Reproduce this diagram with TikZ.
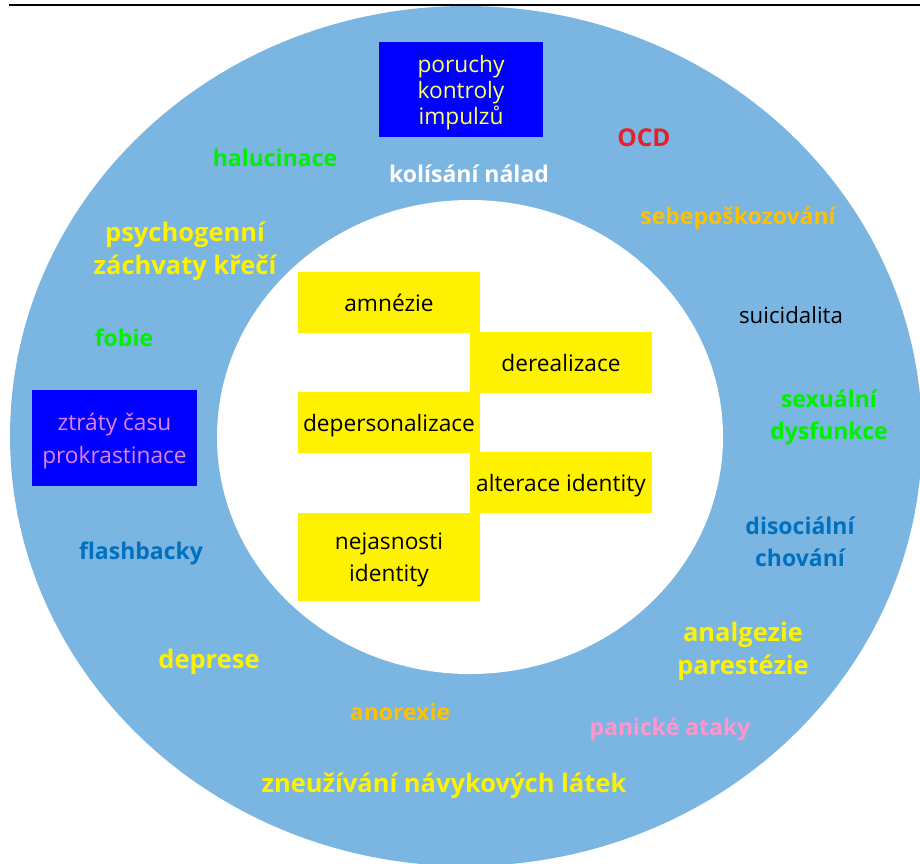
\documentclass[tikz,border=0pt]{standalone}
\usepackage{fontspec}
\setmainfont{Open Sans}
\usepackage{tikz}
\usepackage{xcolor}

\definecolor{ringblue}{RGB}{123,181,225}
\definecolor{hotgreen}{RGB}{0,240,0}
\definecolor{ocdred}{RGB}{232,30,40}
\definecolor{gold}{RGB}{255,192,0}
\definecolor{deepblue}{RGB}{0,112,192}
\definecolor{softpink}{RGB}{255,150,205}
\definecolor{paleyellow}{RGB}{255,255,110}
\definecolor{lilac}{RGB}{225,130,235}

\tikzset{
  ringlabel/.style={align=center, inner sep=0pt, text depth=0pt, font=\fontsize{23}{32}\selectfont\bfseries},
  biglabel/.style={ringlabel, font=\fontsize{25.5}{33}\selectfont\bfseries},
  symptom/.style={fill=yellow, align=center, inner sep=0pt, text depth=0pt, minimum width=182, minimum height=61, font=\fontsize{22.7}{32}\selectfont},
  impbox/.style={fill=blue, align=center, inner sep=0pt, text depth=0pt, font=\fontsize{22.7}{26}\selectfont}
}

\begin{document}
\begin{tikzpicture}[x=1pt,y=1pt,yscale=-1,xscale=1]
\useasboundingbox (0,0) rectangle (920,863);

%Straight Lines [top rule]
\draw [line width=2.6pt] (9,5) -- (920,5) ;
%Shape: Ellipse [outer ring]
\fill [ringblue] (466,436) ellipse [x radius=456, y radius=430] ;
%Shape: Ellipse [inner hole]
\fill [white] (470,437) ellipse [x radius=253, y radius=237] ;

%Shape: Rectangle [blue boxes]
\node [impbox, minimum width=164, minimum height=95, text=paleyellow] (impulzy) at (461,89.5) {poruchy\\kontroly\\impulzů};
\node [impbox, minimum width=165, minimum height=96, font=\fontsize{22.7}{33}\selectfont, text=lilac] (ztraty) at (114.5,438) {ztráty času\\prokrastinace};

%Shape: Rectangle [dissociative core]
\node [symptom] (amnezie) at (389,302.5) {amnézie};
\node [symptom] (derealizace) at (561,362.5) {derealizace};
\node [symptom] (depersonalizace) at (389,422.5) {depersonalizace};
\node [symptom] (alterace) at (561,482.5) {alterace identity};
\node [symptom, minimum height=88] (nejasnosti) at (389,557) {nejasnosti\\identity};

% Text Node
\node [ringlabel, text=hotgreen] (halucinace) at (275,158) {halucinace};
\node [ringlabel, text=white] (nalady) at (469,174) {kolísání nálad};
\node [ringlabel, font=\fontsize{24.5}{32}\selectfont\bfseries, text=ocdred] (ocd) at (644,138) {OCD};
\node [biglabel, text=yellow] (zachvaty) at (185,248) {psychogenní\\záchvaty křečí};
\node [ringlabel, text=gold] (sebeposkozovani) at (738,216) {sebepoškozování};
\node [ringlabel, font=\fontsize{22.3}{32}\selectfont, text=black] (suicidalita) at (791,315) {suicidalita};
\node [ringlabel, text=hotgreen] (fobie) at (124,338) {fobie};
\node [ringlabel, text=hotgreen] (sexualni) at (829,415) {sexuální\\dysfunkce};
\node [ringlabel, text=deepblue] (disocialni) at (800,542) {disociální\\chování};
\node [ringlabel, text=deepblue] (flashbacky) at (141,551) {flashbacky};
\node [biglabel, text=yellow] (analgezie) at (743,648) {analgezie\\parestézie};
\node [biglabel, text=yellow] (deprese) at (209,659) {deprese};
\node [ringlabel, text=gold] (anorexie) at (400,712) {anorexie};
\node [ringlabel, text=softpink] (panika) at (670,727) {panické ataky};
\node [biglabel, text=yellow] (zneuzivani) at (444,783) {zneužívání návykových látek};

\end{tikzpicture}
\end{document}
